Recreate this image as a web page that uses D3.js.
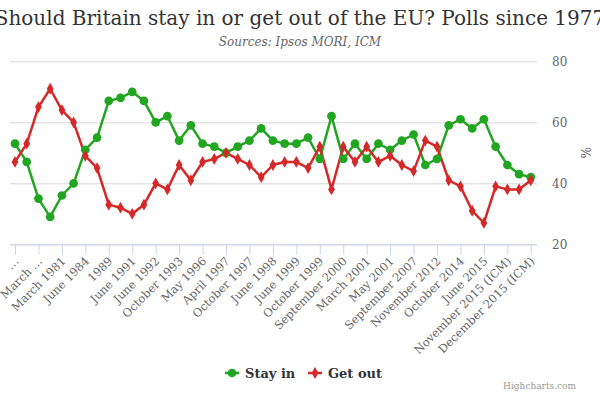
<!DOCTYPE html>
<html>
<head>
<meta charset="utf-8">
<script src="https://cdn.jsdelivr.net/npm/d3@7"></script>
<style>
  html, body { margin: 0; padding: 0; background: #fff; }
  svg { display: block; font-family: "DejaVu Serif", serif; }
</style>
</head>
<body>
<svg id="chart" width="600" height="400"></svg>
<script>
// ---- data ----
const categories = [
  "June 1977", "1978", "March 1979", "1980", "March 1981", "1983", "June 1984", "1987",
  "1989", "1990", "June 1991", "Late 1991", "June 1992", "Early 1993", "October 1993", "1995",
  "May 1996", "Late 1996", "April 1997", "Mid 1997", "October 1997", "Early 1998", "June 1998", "Early 1999",
  "June 1999", "Mid 1999", "October 1999", "Early 2000", "September 2000", "Late 2000", "March 2001", "April 2001",
  "May 2001", "2003", "September 2007", "2010", "November 2012", "2013", "October 2014", "2015",
  "June 2015", "October 2015", "November 2015 (ICM)", "Early December 2015 (ICM)", "December 2015 (ICM)"
];
const stayIn = [53, 47, 35, 29, 36, 40, 51, 55, 67, 68, 70, 67, 60, 62, 54, 59, 53, 52, 50, 52, 54, 58, 54, 53, 53, 55, 48, 62, 48, 53, 48, 53, 51, 54, 56, 46, 48, 59, 61, 58, 61, 52, 46, 43, 42];
const getOut = [47, 53, 65, 71, 64, 60, 49, 45, 33, 32, 30, 33, 40, 38, 46, 41, 47, 48, 50, 48, 46, 42, 46, 47, 47, 45, 52, 38, 52, 47, 52, 47, 49, 46, 44, 54, 52, 41, 39, 31, 27, 39, 38, 38, 41];
const tickLabels = [
  "…", "March …", "March 1981", "June 1984", "1989", "June 1991", "June 1992", "October 1993",
  "May 1996", "April 1997", "October 1997", "June 1998", "June 1999", "October 1999", "September 2000",
  "March 2001", "May 2001", "September 2007", "November 2012", "October 2014", "June 2015",
  "November 2015 (ICM)", "December 2015 (ICM)"
];
const yTicks = [20, 40, 60, 80];
const seriesNames = ["Stay in", "Get out"];
const seriesColors = ["#22a622", "#d52828"];
const titleText = "Should Britain stay in or get out of the EU? Polls since 1977";
const subtitleText = "Sources: Ipsos MORI, ICM";

// ---- layout ----
const svg = d3.select("#chart");
const plot = { left: 10, right: 537, top: 61.3, bottom: 244.3 };

const x = d3.scaleLinear().domain([0, categories.length - 1]).range([15, 530.8]);
const y = d3.scaleLinear().domain([20, 80]).range([plot.bottom, plot.top]);

// title & subtitle
svg.append("text")
  .attr("x", 300).attr("y", 25)
  .attr("text-anchor", "middle")
  .attr("font-size", 20)
  .attr("fill", "#333")
  .text(titleText);
svg.append("text")
  .attr("x", 300).attr("y", 46)
  .attr("text-anchor", "middle")
  .attr("font-size", 12)
  .attr("font-style", "italic")
  .attr("fill", "#666")
  .text(subtitleText);

// gridlines
const yGrid = d3.axisRight(y).tickValues(yTicks).tickSize(-(plot.right - plot.left)).tickFormat("");
svg.append("g")
  .attr("transform", `translate(${plot.right},0)`)
  .call(yGrid)
  .call(g => g.select(".domain").remove())
  .call(g => g.selectAll("line").attr("stroke", "#d8d8d8").attr("stroke-width", 1));

// y axis labels (right)
const yAxis = d3.axisRight(y).tickValues(yTicks).tickSize(0).tickPadding(15);
svg.append("g")
  .attr("transform", `translate(${plot.right},0)`)
  .call(yAxis)
  .call(g => g.select(".domain").remove())
  .call(g => g.selectAll("text")
    .attr("font-family", "DejaVu Serif, serif")
    .attr("font-size", 12)
    .attr("fill", "#666"));

svg.append("text")
  .attr("transform", `translate(581,${(plot.top + plot.bottom) / 2}) rotate(90)`)
  .attr("text-anchor", "middle")
  .attr("font-size", 12)
  .attr("fill", "#666")
  .text("%");

// x axis
const evenIdx = d3.range(0, categories.length, 2);
const xAxis = d3.axisBottom(x)
  .tickValues(evenIdx)
  .tickSize(10)
  .tickFormat((d, i) => tickLabels[i]);
const xg = svg.append("g")
  .attr("transform", `translate(0,${plot.bottom + 0.5})`)
  .call(xAxis);
xg.select(".domain").attr("d", `M${plot.left},0H${plot.right}`).attr("stroke", "#ccd6eb").attr("stroke-width", 1);
xg.selectAll(".tick line").attr("stroke", "#ccd6eb");
xg.selectAll(".tick text")
  .attr("font-family", "DejaVu Serif, serif")
  .attr("font-size", 11.5)
  .attr("fill", "#666")
  .attr("text-anchor", "end")
  .attr("dy", null)
  .attr("y", null)
  .attr("transform", "translate(4,17) rotate(-45)");

// lines and markers
const line = d3.line().x((d, i) => x(i)).y(d => y(d));
const allSeries = [stayIn, getOut];

allSeries.forEach((vals, s) => {
  svg.append("path")
    .datum(vals)
    .attr("fill", "none")
    .attr("stroke", seriesColors[s])
    .attr("stroke-width", 2.5)
    .attr("stroke-linejoin", "round")
    .attr("d", line);
});

const circleSym = d3.symbol().type(d3.symbolCircle).size(60);
const diamondSym = d3.symbol().type(d3.symbolDiamond).size(40);
allSeries.forEach((vals, s) => {
  svg.append("g").selectAll("path")
    .data(vals)
    .join("path")
    .attr("transform", (d, i) => `translate(${x(i)},${y(d)})`)
    .attr("d", s === 0 ? circleSym : diamondSym)
    .attr("fill", seriesColors[s]);
});

// legend
const legendItems = [
  { name: seriesNames[0], color: seriesColors[0], sym: circleSym, x: 225 },
  { name: seriesNames[1], color: seriesColors[1], sym: diamondSym, x: 308 }
];
const lg = svg.append("g").attr("transform", "translate(0,373)");
legendItems.forEach(it => {
  const g = lg.append("g").attr("transform", `translate(${it.x},0)`);
  g.append("line").attr("x1", 0).attr("x2", 14).attr("y1", 0).attr("y2", 0)
    .attr("stroke", it.color).attr("stroke-width", 2.5);
  g.append("path").attr("transform", "translate(7,0)").attr("d", it.sym).attr("fill", it.color);
  g.append("text").attr("x", 20).attr("y", 4.5)
    .attr("font-size", 13).attr("font-weight", "bold").attr("fill", "#333")
    .text(it.name);
});

// credits
svg.append("text")
  .attr("x", 576).attr("y", 389)
  .attr("text-anchor", "end")
  .attr("font-size", 9)
  .attr("fill", "#999")
  .text("Highcharts.com");
</script>
</body>
</html>
